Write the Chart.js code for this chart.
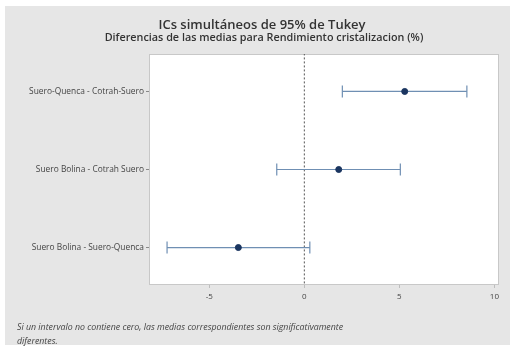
<!DOCTYPE html>
<html>
<head>
<meta charset="utf-8">
<script src="https://cdn.jsdelivr.net/npm/chart.js@4.4.1/dist/chart.umd.min.js"></script>
<style>
  html, body { margin: 0; padding: 0; background: #ffffff; }
  #wrap { position: relative; width: 515px; height: 347px; }
  canvas { display: block; }
</style>
</head>
<body>
<div id="wrap"><canvas id="c" width="515" height="347"></canvas></div>
<script>
// Tukey simultaneous 95% confidence intervals
const comparisons = [
  'Suero-Quenca - Cotrah-Suero',
  'Suero Bolina - Cotrah Suero',
  'Suero Bolina - Suero-Quenca'
];
const diffCenter = [5.28, 1.81, -3.47];
const diffLower  = [2.00, -1.45, -7.22];
const diffUpper  = [8.55, 5.05, 0.29];
const xTicks = [-5, 0, 5, 10];

const titleText = 'ICs simultáneos de 95% de Tukey';
const subtitleText = 'Diferencias de las medias para Rendimiento cristalizacion (%)';
const noteLines = [
  'Si un intervalo no contiene cero, las medias correspondientes son significativamente',
  'diferentes.'
];

const FONT = '"Open Sans", "Noto Sans", sans-serif';
const lineColor = '#6f8fb3';
const pointColor = '#1a3560';

// one line dataset per interval: lower end -> upper end, caps as vertical line markers
const intervalSets = comparisons.map((name, i) => ({
  type: 'line',
  label: name,
  data: [{x: diffLower[i], y: i + 1}, {x: diffUpper[i], y: i + 1}],
  borderColor: lineColor,
  borderWidth: 1.2,
  pointStyle: 'line',
  rotation: 90,
  pointRadius: 6,
  pointBorderColor: lineColor,
  pointBorderWidth: 1.2,
  pointHoverRadius: 6,
  fill: false,
  order: 2
}));

const centerSet = {
  type: 'scatter',
  label: 'Diferencia',
  data: comparisons.map((n, i) => ({x: diffCenter[i], y: i + 1})),
  backgroundColor: pointColor,
  borderColor: pointColor,
  pointRadius: 3,
  pointHoverRadius: 3,
  order: 1
};

// dashed reference line at zero difference
const zeroSet = {
  type: 'line',
  label: 'cero',
  data: [{x: 0, y: 0}, {x: 0, y: 4}],
  borderColor: '#555555',
  borderWidth: 1,
  borderDash: [2, 2],
  pointRadius: 0,
  fill: false,
  order: 3
};

const frame = {
  id: 'frame',
  beforeDraw(chart) {
    const ctx = chart.ctx;
    const a = chart.chartArea;
    ctx.save();
    ctx.fillStyle = '#ffffff';
    ctx.fillRect(0, 0, chart.width, chart.height);
    ctx.fillStyle = '#e6e6e6';
    ctx.fillRect(5, 6, chart.width - 10, chart.height - 8);
    ctx.fillStyle = '#ffffff';
    ctx.fillRect(a.left, a.top, a.right - a.left, a.bottom - a.top);
    ctx.strokeStyle = '#c8c8c8';
    ctx.lineWidth = 1;
    ctx.strokeRect(a.left + 0.5, a.top + 0.5, a.right - a.left - 1, a.bottom - a.top - 1);
    ctx.restore();
  },
  afterDraw(chart) {
    const ctx = chart.ctx;
    ctx.save();
    ctx.fillStyle = '#333333';
    ctx.textAlign = 'center';
    ctx.textBaseline = 'middle';
    ctx.font = '600 13px ' + FONT;
    ctx.fillText(titleText, 262, 25);
    ctx.font = '600 10.8px ' + FONT;
    ctx.fillText(subtitleText, 264, 38);
    ctx.textAlign = 'left';
    ctx.font = 'italic 8.8px ' + FONT;
    ctx.fillStyle = '#444444';
    ctx.fillText(noteLines[0], 17, 327);
    ctx.fillText(noteLines[1], 17, 341);
    ctx.restore();
  }
};

new Chart(document.getElementById('c'), {
  data: { datasets: [zeroSet, ...intervalSets, centerSet] },
  options: {
    responsive: false,
    animation: false,
    devicePixelRatio: 1,
    layout: { padding: { top: 54, right: 16, bottom: 0, left: 0 } },
    plugins: { legend: { display: false }, tooltip: { enabled: false }, title: { display: false } },
    scales: {
      x: {
        type: 'linear',
        min: -8.17,
        max: 10.24,
        afterBuildTicks(scale) { scale.ticks = xTicks.map(v => ({ value: v })); },
        afterFit(scale) { scale.height = 62; },
        grid: { drawOnChartArea: false, drawTicks: true, tickLength: 3, color: '#bdbdbd' },
        border: { display: false },
        ticks: { font: { family: FONT, size: 8 }, color: '#444444', padding: 4, maxRotation: 0 }
      },
      y: {
        type: 'linear',
        reverse: true,
        min: 0.52,
        max: 3.48,
        afterBuildTicks(scale) { scale.ticks = comparisons.map((n, i) => ({ value: i + 1 })); },
        afterFit(scale) { scale.width = 149; },
        grid: { drawOnChartArea: false, drawTicks: true, tickLength: 3, color: '#888888' },
        border: { display: false },
        ticks: {
          font: { family: FONT, size: 8.4 },
          color: '#444444',
          padding: 2,
          callback: (v) => comparisons[Math.round(v) - 1]
        }
      }
    }
  },
  plugins: [frame]
});
</script>
</body>
</html>
